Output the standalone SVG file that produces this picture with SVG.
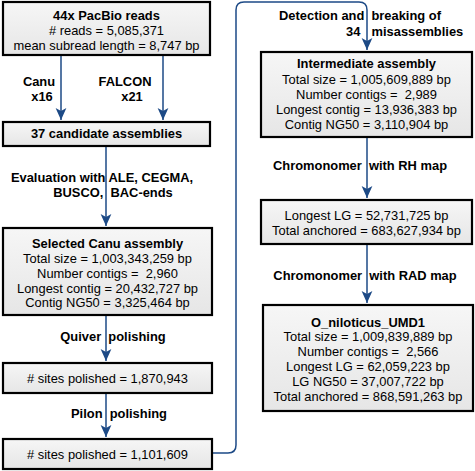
<svg xmlns="http://www.w3.org/2000/svg" width="475" height="471" viewBox="0 0 475 471">
<defs>
<linearGradient id="g" x1="0" y1="0" x2="0" y2="1">
<stop offset="0" stop-color="#f6f6f6"/>
<stop offset="1" stop-color="#e6e6e6"/>
</linearGradient>
<marker id="arr" markerUnits="userSpaceOnUse" markerWidth="12" markerHeight="12" refX="10" refY="5" orient="auto" viewBox="0 0 10 10">
<path d="M0,0.5 L10,5 L0,9.5 L2.5,5 Z" fill="#1d4a86"/>
</marker>
</defs>
<style>
.box{fill:url(#g);stroke:#000;stroke-width:2.2}
.t{font-family:"Liberation Sans",Arial,Helvetica,sans-serif;font-size:12.9px;fill:#000;text-anchor:middle;white-space:pre}
.b{font-weight:bold}
.s{text-anchor:start}
.c{fill:none;stroke:#1d4a86;stroke-width:1.5}
</style>
<rect width="475" height="471" fill="#fff"/>
<g id="connectors">
<path class="c" d="M61,55 V120" marker-end="url(#arr)"/>
<path class="c" d="M163,55 V120" marker-end="url(#arr)"/>
<path class="c" d="M106,146 V226" marker-end="url(#arr)"/>
<path class="c" d="M106,315 V361" marker-end="url(#arr)"/>
<path class="c" d="M106,393 V437" marker-end="url(#arr)"/>
<path class="c" d="M212,453 H228 Q236,453 236,445 V10 Q236,2 244,2 H359 Q367,2 367,10 V50" marker-end="url(#arr)"/>
<path class="c" d="M367,137 V198" marker-end="url(#arr)"/>
<path class="c" d="M367,245 V303" marker-end="url(#arr)"/>
</g>
<g id="labels">
<text class="t b" x="39" y="86">Canu</text>
<text class="t b" x="42" y="101">x16</text>
<text class="t b" x="125" y="86">FALCON</text>
<text class="t b" x="132" y="101">x21</text>
<text class="t b" x="102" y="182">Evaluation with ALE, CEGMA,</text>
<text class="t b" x="113" y="197">BUSCO,  BAC-ends</text>
<text class="t b" x="113" y="341">Quiver  polishing</text>
<text class="t b" x="119" y="418">Pilon  polishing</text>
<text class="t b" x="360" y="20">Detection and  breaking of</text>
<text class="t b s" x="346" y="36">34<tspan dx="4">  misassemblies</tspan></text>
<text class="t b" x="360" y="170">Chromonomer  with RH map</text>
<text class="t b" x="365" y="280">Chromonomer  with RAD map</text>
</g>
<g id="n1">
<rect class="box" x="3" y="2" width="207" height="53"/>
<text class="t b" x="106.5" y="19.5">44x PacBio reads</text>
<text class="t" x="106.5" y="34.5"># reads = 5,085,371</text>
<text class="t" x="106.5" y="49.5">mean subread length = 8,747 bp</text>
</g>
<g id="n2">
<rect class="box" x="3" y="122" width="207" height="24"/>
<text class="t b" x="106.5" y="138">37 candidate assemblies</text>
</g>
<g id="n3">
<rect class="box" x="3" y="228" width="209" height="87"/>
<text class="t b" x="107.5" y="247.5">Selected Canu assembly</text>
<text class="t" x="107.5" y="262.5">Total size = 1,003,343,259 bp</text>
<text class="t" x="107.5" y="277.5">Number contigs =  2,960</text>
<text class="t" x="107.5" y="292.5">Longest contig = 20,432,727 bp</text>
<text class="t" x="107.5" y="306.5">Contig NG50 = 3,325,464 bp</text>
</g>
<g id="n4">
<rect class="box" x="3" y="363" width="209" height="30"/>
<text class="t" x="107.5" y="382.5"># sites polished = 1,870,943</text>
</g>
<g id="n5">
<rect class="box" x="3" y="439" width="209" height="30"/>
<text class="t" x="107.5" y="459"># sites polished = 1,101,609</text>
</g>
<g id="n6">
<rect class="box" x="261" y="52" width="211" height="85"/>
<text class="t b" x="366.5" y="68">Intermediate assembly</text>
<text class="t" x="366.5" y="84">Total size = 1,005,609,889 bp</text>
<text class="t" x="366.5" y="99">Number contigs =  2,989</text>
<text class="t" x="366.5" y="114">Longest contig = 13,936,383 bp</text>
<text class="t" x="366.5" y="129">Contig NG50 = 3,110,904 bp</text>
</g>
<g id="n7">
<rect class="box" x="261" y="200" width="211" height="44"/>
<text class="t" x="366.5" y="219.5">Longest LG = 52,731,725 bp</text>
<text class="t" x="366.5" y="234.5">Total anchored = 683,627,934 bp</text>
</g>
<g id="n8">
<rect class="box" x="263" y="305" width="210" height="106"/>
<text class="t b" x="368" y="326.5">O_niloticus_UMD1</text>
<text class="t" x="368" y="341">Total size = 1,009,839,889 bp</text>
<text class="t" x="368" y="356">Number contigs =  2,566</text>
<text class="t" x="368" y="371">Longest LG = 62,059,223 bp</text>
<text class="t" x="368" y="386">LG NG50 = 37,007,722 bp</text>
<text class="t" x="368" y="401">Total anchored = 868,591,263 bp</text>
</g>
</svg>
